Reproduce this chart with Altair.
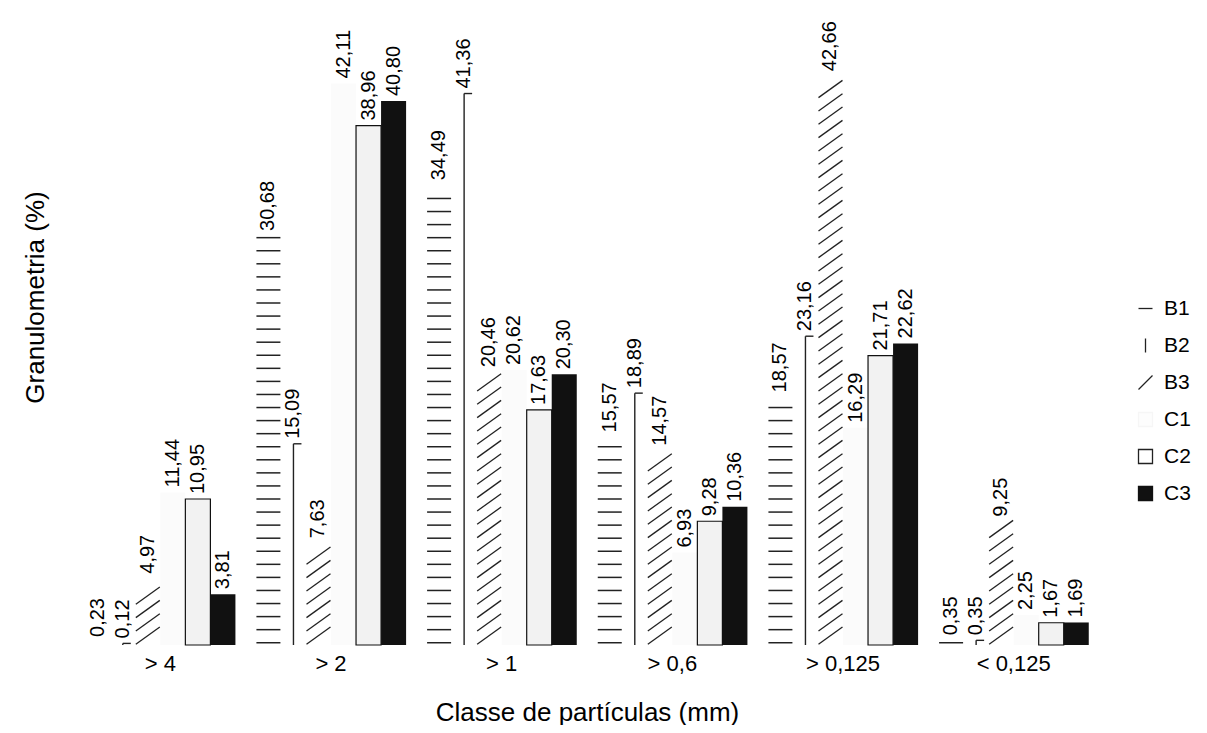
import altair as alt
import pandas as pd

categories = ["> 4", "> 2", "> 1", "> 0,6", "> 0,125", "< 0,125"]
series = ["B1", "B2", "B3", "C1", "C2", "C3"]
B1 = [0.23, 30.68, 34.49, 15.57, 18.57, 0.35]
B2 = [0.12, 15.09, 41.36, 18.89, 23.16, 0.35]
B3 = [4.97, 7.63, 20.46, 14.57, 42.66, 9.25]
C1 = [11.44, 42.11, 20.62, 6.93, 16.29, 2.25]
C2 = [10.95, 38.96, 17.63, 9.28, 21.71, 1.67]
C3 = [3.81, 40.80, 20.30, 10.36, 22.62, 1.69]

bar_fills = ["white", "white", "white", "#fbfbfb", "#f2f2f2", "#111111"]

values = {"B1": B1, "B2": B2, "B3": B3, "C1": C1, "C2": C2, "C3": C3}
fill_of = dict(zip(series, bar_fills))
rows = []
for s in series:
    for c, v in zip(categories, values[s]):
        rows.append({"cat": c, "series": s, "value": v, "barfill": fill_of[s],
                     "label": f"{v:.2f}".replace(".", ",")})
df = pd.DataFrame(rows)

# hatch positions derived from the values (hatch spacing in data units)
stripe_rows = []
for c, v in zip(categories, B1):
    y = 0.17
    while y <= v - 0.1:
        stripe_rows.append({"cat": c, "series": "B1", "value": y})
        y += 0.98
stripes = pd.DataFrame(stripe_rows)

diag_rows = []
for c, v in zip(categories, B3):
    y = 0.7
    while y + 0.6 <= v + 0.05:
        diag_rows.append({"cat": c, "series": "B3", "value": y})
        y += 1.0
diags = pd.DataFrame(diag_rows)

FONT = "Liberation Sans"

x_enc = alt.X("cat:N", sort=categories,
              scale=alt.Scale(domain=categories, paddingInner=0.12, paddingOuter=0.06),
              axis=alt.Axis(title="Classe de partículas (mm)", labelAngle=0, ticks=False,
                            domain=False, grid=False, labelFontSize=22, labelPadding=8,
                            labelColor="black", labelFont=FONT, titleFont=FONT,
                            titleFontSize=26, titleFontWeight="normal",
                            titleColor="black", titleBaseline="alphabetic", titleY=75))
xo_enc = alt.XOffset("series:N", sort=series, scale=alt.Scale(domain=series))
y_enc = alt.Y("value:Q", scale=alt.Scale(domain=[0, 45], nice=False),
              axis=alt.Axis(title="Granulometria (%)", labels=False, ticks=False,
                            domain=False, grid=False, titleFontSize=26, titleFont=FONT,
                            titleFontWeight="normal", titleColor="black",
                            titleX=-40, titleY=252, titleAngle=270,
                            titleAlign="center", titleBaseline="middle"))

bars = alt.Chart(df).mark_bar(strokeWidth=1.2).encode(
    x=x_enc, xOffset=xo_enc, y=y_enc,
    color=alt.Color("barfill:N", scale=None),
    stroke=alt.condition("datum.series == 'C2'", alt.value("#111111"), alt.value("transparent")),
)

b2_line = alt.Chart(df).transform_filter("datum.series == 'B2'").mark_rule(
    color="#222222", strokeWidth=1.4).encode(
    x=x_enc, xOffset=xo_enc, y=y_enc, y2=alt.datum(0))

b2_top = alt.Chart(df).transform_filter("datum.series == 'B2'").mark_point(
    shape="M0,0L1,0", size=256, filled=False, stroke="#222222", strokeWidth=1.4,
    opacity=1).encode(x=x_enc, xOffset=xo_enc, y=y_enc)

b1_stripes = alt.Chart(stripes).mark_point(
    shape="M-1,0L1,0", size=576, filled=False, stroke="#222222", strokeWidth=1.5,
    opacity=1).encode(x=x_enc, xOffset=xo_enc, y=y_enc)

b3_diags = alt.Chart(diags).mark_point(
    shape="M-1,0.72L1,-0.72", size=576, filled=False, stroke="#222222", strokeWidth=1.3,
    opacity=1).encode(x=x_enc, xOffset=xo_enc, y=y_enc)

labels = alt.Chart(df).mark_text(angle=270, align="left", baseline="middle", dx=5,
                                 fontSize=20, font=FONT, color="black").encode(
    x=x_enc, xOffset=xo_enc, y=y_enc, text="label:N")

legend_shapes = ["M-1,0L1,0", "M0,-1L0,1", "M-1,1L1,-1", "square", "square", "square"]
legend_fills = ["white", "white", "white", "#fdfdfd", "white", "#111111"]
legend_strokes = ["#222222", "#222222", "#222222", "#f6f6f6", "#222222", "#111111"]
leg = alt.Legend(orient="none", legendX=1060, legendY=253, title=None)

# legend carrier: points placed below the baseline and clipped away
legend_layer = alt.Chart(df).mark_point(filled=True, clip=True, opacity=1).encode(
    x=x_enc, xOffset=xo_enc, y=alt.datum(-20),
    shape=alt.Shape("series:N", scale=alt.Scale(domain=series, range=legend_shapes), legend=leg),
    fill=alt.Fill("series:N", scale=alt.Scale(domain=series, range=legend_fills), legend=leg),
    stroke=alt.Stroke("series:N", scale=alt.Scale(domain=series, range=legend_strokes), legend=leg),
)

chart = alt.layer(bars, b2_line, b2_top, b1_stripes, b3_diags, labels, legend_layer).properties(
    width=1024, height=600,
    autosize=alt.AutoSizeParams(type="none"),
    padding={"left": 67, "top": 37, "right": 100, "bottom": 80},
).configure(font=FONT).configure_view(strokeWidth=0).configure_legend(
    labelFontSize=21, labelFont=FONT, labelColor="black",
    symbolSize=196, symbolStrokeWidth=1.3, rowPadding=15, labelOffset=8, padding=0,
)

chart.save("out.html", embed_options={"renderer": "svg", "actions": False})
